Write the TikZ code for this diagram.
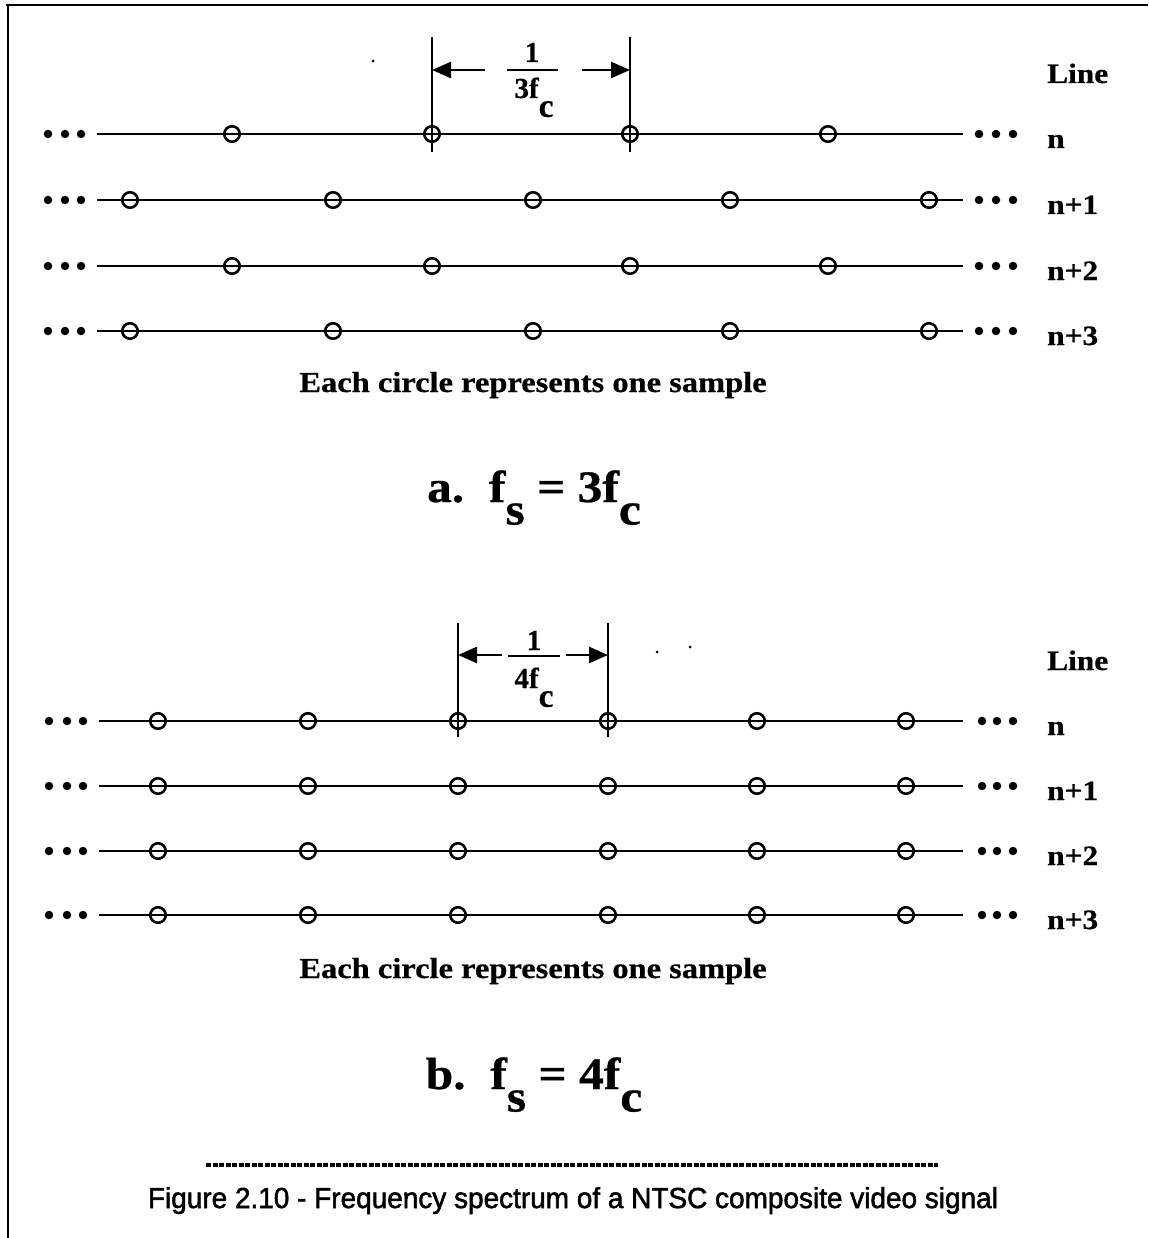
\documentclass[tikz,border=0pt]{standalone}
\usepackage{fontspec}
\setmainfont{Liberation Serif}[BoldFeatures={FakeBold=0.6}]
\newfontfamily\capfont{Liberation Sans}[FakeBold=1.8]
\usetikzlibrary{arrows.meta}
\newcommand\lowsub[2][0.5em]{\raisebox{-#1}{#2}}
\begin{document}
\begin{tikzpicture}[x=1pt,y=-1pt,
  samp/.style={circle,draw,line width=2.6pt,minimum size=15.5pt,inner sep=0pt},
  dotn/.style={circle,fill,minimum size=8.5pt,inner sep=0pt},
  speck/.style={circle,fill,minimum size=3pt,inner sep=0pt},
  ln/.style={line width=2.6pt},
  dimln/.style={line width=2.4pt},
  arr/.style={line width=2.6pt,-{Triangle[length=19pt,width=16pt]}},
  lbl/.style={font=\fontsize{28}{30}\selectfont\bfseries,inner sep=0pt,anchor=base west,xscale=1.12},
  txt/.style={font=\fontsize{29}{31}\selectfont\bfseries,inner sep=0pt,anchor=base,xscale=1.12},
  big/.style={font=\fontsize{45}{48}\selectfont\bfseries,inner sep=0pt,anchor=base,xscale=1.1},
  fracn/.style={font=\fontsize{29}{30}\selectfont\bfseries,inner sep=0pt,anchor=base}]
\useasboundingbox (0,0) rectangle (1148,1238);
% frame
\coordinate (ftr) at (1148,5); \coordinate (ftl) at (6,5);
\coordinate (fl) at (8,5); \coordinate (fb) at (8,1238);
\draw[line width=2.8pt] (ftl) -- (ftr);
\draw[line width=2.8pt] (fl) -- (fb);

% ---------------- part a ----------------
\node[lbl] (alinehd) at (1047,83) {Line};
\foreach \r/\y/\lab in {0/134/n,1/200/n+1,2/266/n+2,3/331/n+3}{
  \coordinate (aL\r) at (97,\y); \coordinate (aR\r) at (963,\y);
  \draw[ln] (aL\r) -- (aR\r);
  \node[dotn] (adl\r-1) at (48,\y) {}; \node[dotn] (adl\r-2) at (65,\y) {}; \node[dotn] (adl\r-3) at (81,\y) {};
  \node[dotn] (adr\r-1) at (979,\y) {}; \node[dotn] (adr\r-2) at (996,\y) {}; \node[dotn] (adr\r-3) at (1013,\y) {};
  \node[lbl] (alab\r) at (1047,\y+14) {\lab};
}
\foreach \r/\y in {0/134,2/266}{
  \foreach \x [count=\k] in {232,432,630,828} \node[samp] (ac\r-\k) at (\x,\y) {};
}
\foreach \r/\y in {1/200,3/331}{
  \foreach \x [count=\k] in {130,333,533,730,929} \node[samp] (ac\r-\k) at (\x,\y) {};
}
% dimension a
\coordinate (avt1) at (432,37); \coordinate (avb1) at (432,152);
\coordinate (avt2) at (630,37); \coordinate (avb2) at (630,152);
\draw[dimln] (avt1) -- (avb1);
\draw[dimln] (avt2) -- (avb2);
\coordinate (aas1) at (485,70); \coordinate (aae1) at (432,70);
\coordinate (aas2) at (582,70); \coordinate (aae2) at (630,70);
\draw[arr] (aas1) -- (aae1);
\draw[arr] (aas2) -- (aae2);
\coordinate (abl) at (507,70); \coordinate (abr) at (558,70);
\draw[line width=2.8pt] (abl) -- (abr);
\node[fracn] (anum) at (532,62) {1};
\node[fracn] (aden) at (534,98) {3f\lowsub[0.65em]{\scalebox{1.15}{c}}};
\node[speck] (asp1) at (373,61) {};
\node[txt] (aeach) at (533,392) {Each circle represents one sample};
\node[big] (aform) at (534,502) {a.\hspace{0.5em}f\lowsub{s} = 3f\lowsub{c}};

% ---------------- part b ----------------
\node[lbl] (blinehd) at (1047,670) {Line};
\foreach \r/\y/\lab in {0/721/n,1/786/n+1,2/851/n+2,3/915/n+3}{
  \coordinate (bL\r) at (99,\y); \coordinate (bR\r) at (963,\y);
  \draw[ln] (bL\r) -- (bR\r);
  \node[dotn] (bdl\r-1) at (49,\y) {}; \node[dotn] (bdl\r-2) at (67,\y) {}; \node[dotn] (bdl\r-3) at (83,\y) {};
  \node[dotn] (bdr\r-1) at (982,\y) {}; \node[dotn] (bdr\r-2) at (997,\y) {}; \node[dotn] (bdr\r-3) at (1013,\y) {};
  \node[lbl] (blab\r) at (1047,\y+14) {\lab};
  \foreach \x [count=\k] in {158,308,458,608,757,906} \node[samp] (bc\r-\k) at (\x,\y) {};
}
% dimension b
\coordinate (bvt1) at (458,623); \coordinate (bvb1) at (458,737);
\coordinate (bvt2) at (608,623); \coordinate (bvb2) at (608,737);
\draw[dimln] (bvt1) -- (bvb1);
\draw[dimln] (bvt2) -- (bvb2);
\coordinate (bas1) at (502,655); \coordinate (bae1) at (458,655);
\coordinate (bas2) at (566,655); \coordinate (bae2) at (608,655);
\draw[arr] (bas1) -- (bae1);
\draw[arr] (bas2) -- (bae2);
\coordinate (bbl) at (508,656); \coordinate (bbr) at (560,656);
\draw[line width=2.8pt] (bbl) -- (bbr);
\node[fracn] (bnum) at (534,650) {1};
\node[fracn] (bden) at (534,688) {4f\lowsub[0.65em]{\scalebox{1.15}{c}}};
\node[speck] (bsp1) at (657,652) {};
\node[speck] (bsp2) at (690,647) {};
\node[txt] (beach) at (533,978) {Each circle represents one sample};
\node[big] (bform) at (534,1089) {b.\hspace{0.5em}f\lowsub{s} = 4f\lowsub{c}};

% caption
\coordinate (dl) at (206,1165); \coordinate (dr) at (938,1165);
\draw[line width=3.2pt,dash pattern=on 5pt off 1.5pt] (dl) -- (dr);
\node[anchor=base,inner sep=0pt] (cap) at (573,1208)
  {\resizebox{850pt}{21pt}{\capfont\fontsize{24}{26}\selectfont Figure 2.10 - Frequency spectrum of a NTSC composite video signal}};
\end{tikzpicture}
\end{document}
